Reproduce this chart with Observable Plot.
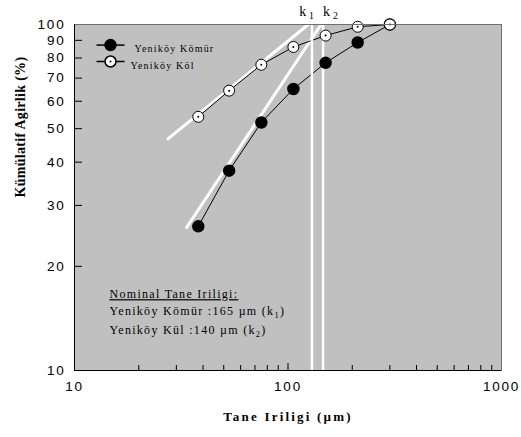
<!DOCTYPE html>
<html><head><meta charset="utf-8">
<script src="https://cdn.jsdelivr.net/npm/d3@7"></script>
<script src="https://cdn.jsdelivr.net/npm/@observablehq/plot@0.6"></script>
<style>
body{margin:0;background:#fff;}
#chart svg{display:block;}
g[aria-label="x-axis tick label"] text{letter-spacing:1.8px;}
g[aria-label="y-axis tick label"] text{letter-spacing:1.8px;}
g[aria-description="xtitle"] text{letter-spacing:2.2px;}
g[aria-description="ytitle"] text{letter-spacing:0.3px;}
g[aria-description="legend"] text{letter-spacing:1.2px;}
g[aria-description="note"] text{letter-spacing:1.3px;}
g[aria-description="notehead"] text{letter-spacing:1.3px;text-decoration:underline;}
</style></head><body><div id="chart"></div>
<script>
// particle sizes (µm)
const sizes = [38, 53, 75, 106, 150, 212, 300];
// cumulative weight (%)
const komur = [26.1, 37.8, 52.1, 65.1, 77.5, 88.7, 100];
const kul = [54.1, 64.4, 76.5, 86.1, 92.9, 98.5, 100];
const seriesNames = ["Yeniköy Kömür", "Yeniköy Köl"];
// fitted (white) lines
const fitKomurX = [33.5, 146];
const fitKomurY = [25.9, 102];
const fitKulX = [27.4, 129.5];
const fitKulY = [46.7, 102];
// nominal sizes (vertical lines)
const kValues = [129.5, 146];
const kLabels = ["k_1", "k_2"];
// ticks
const xTickLabels = [10, 100, 1000];
const xMinorTicks = [20, 30, 40, 50, 60, 70, 80, 90, 200, 300, 400, 500, 600, 700, 800, 900];
const xMajorTicks = [100];
const yTickLabels = [10, 20, 30, 40, 50, 60, 70, 80, 90, 100];
const yInnerTicks = [20, 30, 40, 50, 60, 70, 80, 90];
const xTitle = "Tane Iriligi (µm)";
const yTitle = "Kümülatif Agirlik (%)";
const noteLines = ["Nominal Tane Iriligi:", "Yeniköy Kömür :165 µm (k_1)", "Yeniköy Kül :140 µm (k_2)"];

const komurRows = sizes.map((s, i) => ({x: s, y: komur[i]}));
const kulRows = sizes.map((s, i) => ({x: s, y: kul[i]}));
const fitKomur = fitKomurX.map((x, i) => ({x, y: fitKomurY[i]}));
const fitKul = fitKulX.map((x, i) => ({x, y: fitKulY[i]}));

const serif = "Liberation Serif, Times New Roman, serif";
const sans = "Liberation Sans, Arial, sans-serif";
const legendLine = {draw(ctx) { ctx.moveTo(-14, 0); ctx.lineTo(14, 0); }};
const W = 521, H = 437, mL = 74, mR = 20, mT = 24, mB = 67;
const fw = W - mL - mR, fh = H - mT - mB;

const plot = Plot.plot({
  width: W, height: H,
  marginLeft: mL, marginRight: mR, marginTop: mT, marginBottom: mB,
  style: {fontFamily: sans, background: "#fff", overflow: "visible"},
  x: {type: "log", domain: [10, 1000]},
  y: {type: "log", domain: [10, 100]},
  marks: [
    Plot.frame({fill: "#c0c0c0"}),
    Plot.line(fitKul, {x: "x", y: "y", stroke: "white", strokeWidth: 3}),
    Plot.line(fitKomur, {x: "x", y: "y", stroke: "white", strokeWidth: 3}),
    Plot.line(komurRows, {x: "x", y: "y", stroke: "black", strokeWidth: 1}),
    Plot.line(kulRows, {x: "x", y: "y", stroke: "black", strokeWidth: 1}),
    Plot.ruleX(kValues, {x: d => d, y1: 10, y2: 102, stroke: "white", strokeWidth: 2.5}),
    Plot.dot(komurRows, {x: "x", y: "y", r: 5.5, fill: "black", stroke: "black"}),
    Plot.dot(kulRows, {x: "x", y: "y", r: 5.5, fill: "white", stroke: "black", strokeWidth: 1}),
    Plot.dot(kulRows, {x: "x", y: "y", r: 1, fill: "black"}),
    Plot.frame({stroke: "#6e6e6e"}),
    Plot.ruleX([10], {stroke: "black"}),
    Plot.ruleY([10], {stroke: "black"}),
    Plot.tickX(xMinorTicks, {x: d => d, stroke: "black", insetTop: fh - 5}),
    Plot.tickX(xMajorTicks, {x: d => d, stroke: "black", insetTop: fh - 7}),
    Plot.tickY(yInnerTicks, {y: d => d, stroke: "black", insetRight: fw - 8}),
    Plot.axisX(xTickLabels, {tickSize: 0, tickPadding: 11, fontSize: 13.5, fontFamily: sans, fill: "black", tickFormat: d => String(d), label: null}),
    Plot.axisY(yTickLabels, {tickSize: 0, tickPadding: 9, fontSize: 13.5, fontFamily: sans, fill: "black", tickFormat: d => String(d), label: null}),
    Plot.text([xTitle], {frameAnchor: "bottom", dy: 50, fontSize: 13, fontWeight: "bold", fontFamily: serif, fill: "black", ariaDescription: "xtitle"}),
    Plot.text([yTitle], {frameAnchor: "left", dx: -54, rotate: -90, fontSize: 14, fontWeight: "bold", fontFamily: serif, fill: "black", ariaDescription: "ytitle"}),
    // k labels
    Plot.text([kValues[0]], {x: d => d, text: () => kLabels[0], frameAnchor: "top", dy: -9, dx: 2, lineAnchor: "bottom", textAnchor: "end", fontSize: 14, fontFamily: serif, fill: "black"}),
    Plot.text([kValues[1]], {x: d => d, text: () => kLabels[1], frameAnchor: "top", dy: -9, dx: 0, lineAnchor: "bottom", textAnchor: "start", fontSize: 14, fontFamily: serif, fill: "black"}),
    // legend
    ...seriesNames.flatMap((name, i) => [
      Plot.dot([0], {frameAnchor: "top-left", dx: 36, dy: 20.6 + i * 16.4, symbol: legendLine, r: 6, fill: "none", stroke: "black"}),
      Plot.dot([0], {frameAnchor: "top-left", dx: 36, dy: 20.6 + i * 16.4, r: 5.5, fill: i === 0 ? "black" : "white", stroke: "black"}),
      ...(i === 1 ? [Plot.dot([0], {frameAnchor: "top-left", dx: 36, dy: 20.6 + i * 16.4, r: 1, fill: "black"})] : []),
      Plot.text([name], {frameAnchor: "top-left", dx: i === 0 ? 60 : 56, dy: 20.6 + i * 16.4, textAnchor: "start", fontSize: 10, fontFamily: serif, fill: "black", ariaDescription: "legend"})
    ]),
    // note
    Plot.text([noteLines[0]], {frameAnchor: "bottom-left", dx: 35, dy: -72.3, lineAnchor: "bottom", textAnchor: "start", fontSize: 12, fontFamily: serif, fill: "black", ariaDescription: "notehead"}),
    Plot.text([noteLines[1]], {frameAnchor: "bottom-left", dx: 35, dy: -55.7, lineAnchor: "bottom", textAnchor: "start", fontSize: 12, fontFamily: serif, fill: "black", ariaDescription: "note"}),
    Plot.text([noteLines[2]], {frameAnchor: "bottom-left", dx: 35, dy: -36.7, lineAnchor: "bottom", textAnchor: "start", fontSize: 12, fontFamily: serif, fill: "black", ariaDescription: "note"})
  ]
});

// subscripts: "k_1" -> k with subscript 1
d3.select(plot).selectAll("text").each(function () {
  const s = this.textContent;
  const m = s.match(/^(.*)_(\d)(.*)$/);
  if (!m) return;
  const t = d3.select(this);
  t.text(null);
  t.append("tspan").text(m[1] + (m[3] ? "" : "\u2009"));
  t.append("tspan").attr("dy", 3).attr("font-size", "0.7em").text(m[2]);
  if (m[3]) t.append("tspan").attr("dy", -3).text(m[3]);
});

document.getElementById("chart").appendChild(plot);
</script></body></html>
